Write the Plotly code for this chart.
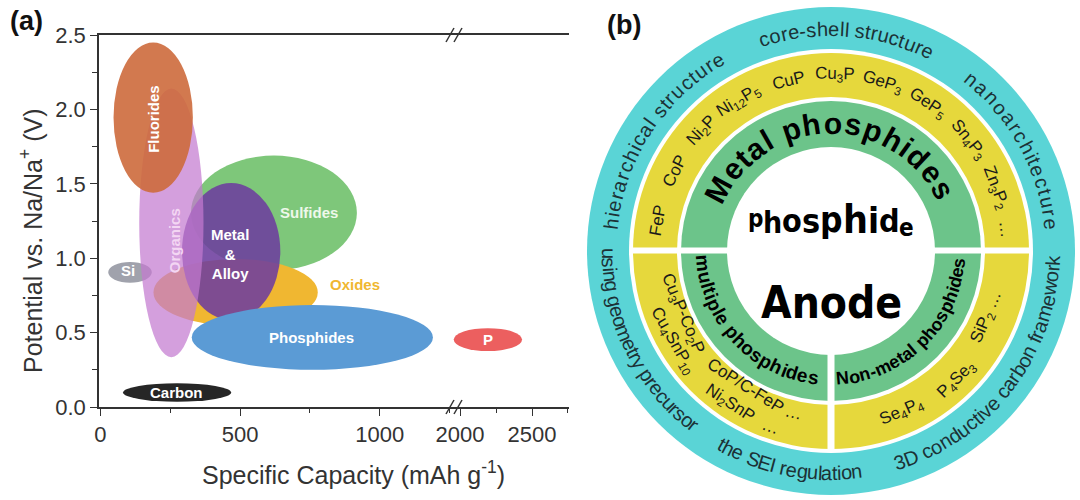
import math
import plotly.graph_objects as go

FONT = "Liberation Sans, Arial, Helvetica, sans-serif"
NARROW = "DejaVu Sans Condensed, Liberation Sans Narrow, Arial Narrow, Liberation Sans, sans-serif"

# ---------------- Panel (a) data ----------------
materials = ["Sulfides", "Oxides", "Metal & Alloy", "Si", "Organics", "Fluorides",
             "Phosphides", "Carbon", "P"]
cap_min = [324, 190, 292, 28, 139, 47, 327, 81, 1956]       # mAh/g
cap_max = [918, 778, 644, 184, 369, 331, 1190, 468, 2431]
pot_min = [0.92, 0.545, 0.585, 0.835, 0.335, 1.44, 0.25, 0.035, 0.376]   # V
pot_max = [1.69, 0.995, 1.505, 0.975, 2.14, 2.45, 0.685, 0.16, 0.53]
fill_colors = ["#7ec77a", "#f0b731", "#6d3d9e", "#a0a2ac", "#c47ad0", "#cd6a3c",
               "#5b9bd5", "#262626", "#ec5f5f"]
fill_opacity = [1.0, 1.0, 0.88, 1.0, 0.72, 0.9, 1.0, 1.0, 1.0]
cap_axis = ["x", "x", "x", "x", "x", "x", "x", "x", "x2"]

label_text = ["Sulfides", "Oxides", "Metal<br>&<br>Alloy", "Si", "Organics", "Fluorides",
              "Phosphides", "Carbon", "P"]
label_cap = [746, 912, 465, 97, 263, 190, 756, 273, 2191]
label_pot = [1.31, 0.825, 1.03, 0.915, 1.12, 1.94, 0.465, 0.095, 0.457]
label_angle = [0, 0, 0, 0, -90, -90, 0, 0, 0]
label_color = ["#eef8ea", "#f0b731", "#ffffff", "#ffffff", "#f3d6f3", "#ffffff",
               "#ffffff", "#ffffff", "#ffffff"]

x_title = "Specific Capacity (mAh g<sup>-1</sup>)"
y_title = "Potential vs. Na/Na<sup>+</sup> (V)"

# ---------------- Panel (b) data ----------------
outer_texts = ["hierarchical structure", "core-shell structure", "nanoarchitecture",
               "using geometry precursor", "the SEI regulation",
               "3D conductive carbon framework"]
outer_start = [172.9, 107.5, 50.8, 180.5, 240.5, 288.0]
outer_end = [120.6, 64.2, 7.1, 231.8, 276.7, 357.7]
outer_up = [True, True, True, False, False, False]

green_texts = ["Metal phosphides", "multiple phosphides", "Non-metal phosphides"]
green_start = [151.5, 185.4, 275.3]
green_end = [28.9, 262.0, 354.8]
green_size = [30, 19, 18]
green_up = [True, False, False]

top_tokens = ["FeP", "CoP", "Ni<sub>2</sub>P", "Ni<sub>12</sub>P<sub>5</sub>", "CuP",
              "Cu<sub>3</sub>P", "GeP<sub>3</sub>", "GeP<sub>5</sub>",
              "Sn<sub>4</sub>P<sub>3</sub>", "Zn<sub>3</sub>P<sub>2</sub>", "…"]
top_angle = [170, 153, 137, 121.4, 104, 88.7, 73, 56.7, 39, 21, 7]

low_tokens = ["Cu<sub>3</sub>P-Co<sub>2</sub>P", "Cu<sub>4</sub>SnP<sub>10</sub>",
              "CoP/C-FeP", "Ni<sub>2</sub>SnP", "…", "…",
              "Se<sub>4</sub>P<sub>4</sub>", "P<sub>4</sub>Se<sub>3</sub>",
              "SiP<sub>2</sub> …"]
low_angle = [203, 209.5, 237.5, 236.5, 257, 251, 293.8, 314.3, 337]
low_radius = [162, 182, 160, 184, 166, 186, 176, 180, 170]

center_word1 = "phosphide"
center_word1_sizes = [24, 30, 32, 34, 35, 39, 36, 32, 24]
center_word1_base = [227, 232, 232, 232, 232, 232, 232, 232, 236]
center_word2 = "Anode"

# ---------------- geometry helpers ----------------
W, H = 1080, 500


def px(x):
    return x / W


def py(y):
    return 1 - y / H


REG = {'a': 556, 'b': 556, 'c': 500, 'd': 556, 'e': 556, 'f': 278, 'g': 556, 'h': 556,
       'i': 222, 'j': 222, 'k': 500, 'l': 222, 'm': 833, 'n': 556, 'o': 556, 'p': 556,
       'q': 556, 'r': 333, 's': 500, 't': 278, 'u': 556, 'v': 500, 'w': 722, 'x': 500,
       'y': 500, 'z': 500, ' ': 278, '-': 333, '3': 556, 'D': 722, 'S': 667, 'E': 667,
       'I': 278}
BOLD = {'a': 556, 'b': 611, 'c': 556, 'd': 611, 'e': 556, 'f': 333, 'g': 611, 'h': 611,
        'i': 278, 'l': 278, 'm': 889, 'n': 611, 'o': 611, 'p': 611, 'r': 389, 's': 556,
        't': 333, 'u': 611, 'M': 833, 'N': 722, ' ': 278, '-': 333, 'A': 722}
CONDB = {'p': 644, 'h': 641, 'o': 618, 's': 536, 'i': 309, 'd': 644, 'e': 610}

annotations = []
shapes = []

# ---------------- Panel (a) ----------------
for i in range(len(materials)):
    shapes.append(dict(type="circle", xref=cap_axis[i], yref="y",
                       x0=cap_min[i], x1=cap_max[i], y0=pot_min[i], y1=pot_max[i],
                       fillcolor=fill_colors[i], opacity=fill_opacity[i],
                       line=dict(width=0), layer="below"))
for i in range(len(materials)):
    annotations.append(dict(x=label_cap[i], y=label_pot[i], xref=cap_axis[i], yref="y",
                            text=label_text[i], textangle=label_angle[i], showarrow=False,
                            xanchor="center", yanchor="middle",
                            font=dict(family=FONT, size=15, color=label_color[i],
                                      weight="bold")))


def paper_text(text, x, y, size, color, bold=False, angle=0):
    annotations.append(dict(x=px(x), y=py(y), xref="paper", yref="paper", text=text,
                            textangle=angle, showarrow=False, xanchor="center",
                            yanchor="middle",
                            font=dict(family=FONT, size=size, color=color,
                                      weight="bold" if bold else "normal")))


paper_text(x_title, 353, 473, 25, "#333")
paper_text(y_title, 31, 241, 25, "#333", angle=-90)
paper_text("(a)", 26, 21, 27, "#111", bold=True)
paper_text("(b)", 624, 25, 27, "#111", bold=True)

# axis break marks
for yb in (35, 407):
    for dx in (0, 8):
        shapes.append(dict(type="line", xref="paper", yref="paper",
                           x0=px(446 + dx), y0=py(yb + 7), x1=px(454 + dx), y1=py(yb - 7),
                           line=dict(color="#333", width=1.5), layer="above"))

# ---------------- Panel (b) ----------------
rings = [(244, "#5ad4d6"), (202, "#ffffff"), (198, "#e6d83c"), (154, "#ffffff"),
         (150, "#6cc48a"), (104, "#ffffff")]
for r, c in rings:
    shapes.append(dict(type="circle", xref="x3", yref="y3", x0=-r, x1=r, y0=-r, y1=r,
                       fillcolor=c, line=dict(width=0), layer="below"))
shapes.append(dict(type="rect", xref="x3", yref="y3", x0=-200, x1=200, y0=-2.5, y1=3.5,
                   fillcolor="#ffffff", line=dict(width=0), layer="below"))
shapes.append(dict(type="rect", xref="x3", yref="y3", x0=-3.5, x1=3.5, y0=-200, y1=0,
                   fillcolor="#ffffff", line=dict(width=0), layer="below"))


def arc_text(text, th0, th1, r, size, bold, up, color, family=FONT):
    tbl = BOLD if bold else REG
    w = [tbl.get(ch, 556) * size / 1000 for ch in text]
    centers, s = [], 0
    for wi in w:
        centers.append(s + wi / 2)
        s += wi
    span = centers[-1] - centers[0]
    for ch, cc in zip(text, centers):
        if ch == " ":
            continue
        t = (cc - centers[0]) / span
        th = th0 + t * (th1 - th0)
        rad = math.radians(th)
        ang = (90 - th) if up else (270 - th)
        annotations.append(dict(x=r * math.cos(rad), y=r * math.sin(rad), xref="x3",
                                yref="y3", text=ch, textangle=ang, showarrow=False,
                                xanchor="center", yanchor="middle",
                                font=dict(family=family, size=size, color=color,
                                          weight="bold" if bold else "normal")))


for t, a0, a1, up in zip(outer_texts, outer_start, outer_end, outer_up):
    arc_text(t, a0, a1, 222, 20, False, up, "#1c3236")
for t, a0, a1, sz, up in zip(green_texts, green_start, green_end, green_size, green_up):
    arc_text(t, a0, a1, 128, sz, True, up, "#000000")


def token(text, th, r, up):
    rad = math.radians(th)
    ang = (90 - th) if up else (270 - th)
    annotations.append(dict(x=r * math.cos(rad), y=r * math.sin(rad), xref="x3", yref="y3",
                            text=text, textangle=ang, showarrow=False,
                            xanchor="center", yanchor="middle",
                            font=dict(family=FONT, size=17, color="#1a1a1a")))


for t, a in zip(top_tokens, top_angle):
    token(t, a, 176, True)
for t, a, r in zip(low_tokens, low_angle, low_radius):
    token(t, a, r, False)

# centre words
nw = [CONDB.get(ch, 620) * s / 1000 for ch, s in zip(center_word1, center_word1_sizes)]
tot = sum(nw)
xc = -tot / 2
for ch, s, b, wi in zip(center_word1, center_word1_sizes, center_word1_base, nw):
    annotations.append(dict(x=xc + wi / 2, y=(251 - b) + 0.33 * s, xref="x3", yref="y3",
                            text=ch, showarrow=False, xanchor="center", yanchor="middle",
                            font=dict(family=NARROW, size=s, color="#000", weight="bold")))
    xc += wi
annotations.append(dict(x=0, y=(251 - 317) + 0.33 * 44, xref="x3", yref="y3",
                        text=center_word2, showarrow=False, xanchor="center",
                        yanchor="middle",
                        font=dict(family=NARROW, size=44, color="#000", weight="bold")))

# ---------------- figure ----------------
fig = go.Figure()
ax_common = dict(showline=True, linecolor="#333", linewidth=1.5,
                 ticks="outside", ticklen=7, tickwidth=1.3, tickcolor="#333",
                 showgrid=False, zeroline=False, automargin=False,
                 tickfont=dict(family=FONT, size=22, color="#333"))

fig.update_layout(
    width=W, height=H, margin=dict(l=0, r=0, t=0, b=0, pad=0), autosize=False,
    paper_bgcolor="white", plot_bgcolor="rgba(0,0,0,0)", showlegend=False,
    xaxis=dict(domain=[px(99), px(453)], range=[-5, 1262], dtick=500, tick0=0,
               anchor="y", mirror=True,
               minor=dict(dtick=250, tick0=0, ticks="outside", ticklen=4,
                          tickcolor="#333", tickwidth=1.2), **ax_common),
    xaxis2=dict(domain=[px(453), px(569)], range=[1951, 2757], dtick=500, tick0=0,
                anchor="y", mirror=True,
                minor=dict(dtick=250, tick0=0, ticks="outside", ticklen=4,
                           tickcolor="#333", tickwidth=1.2), **ax_common),
    yaxis=dict(domain=[py(407), py(35)], range=[0, 2.5], dtick=0.5, tick0=0,
               tickformat=".1f", anchor="x", mirror=False,
               minor=dict(dtick=0.25, tick0=0, ticks="outside", ticklen=5,
                          tickcolor="#333", tickwidth=1.2), **ax_common),
    yaxis2=dict(domain=[py(407), py(35)], matches="y", anchor="x2", side="right",
                showline=True, linecolor="#333", linewidth=1.5, ticks="",
                showticklabels=False, showgrid=False, zeroline=False, automargin=False),
    xaxis3=dict(domain=[px(580), 1.0], range=[-251, 249], visible=False, anchor="y3",
                automargin=False),
    yaxis3=dict(domain=[0, 1], range=[-249, 251], visible=False, anchor="x3",
                automargin=False),
    shapes=shapes, annotations=annotations,
)

fig.write_html("out.html", config={"displayModeBar": False},
               post_script="document.body.style.margin='0';")
